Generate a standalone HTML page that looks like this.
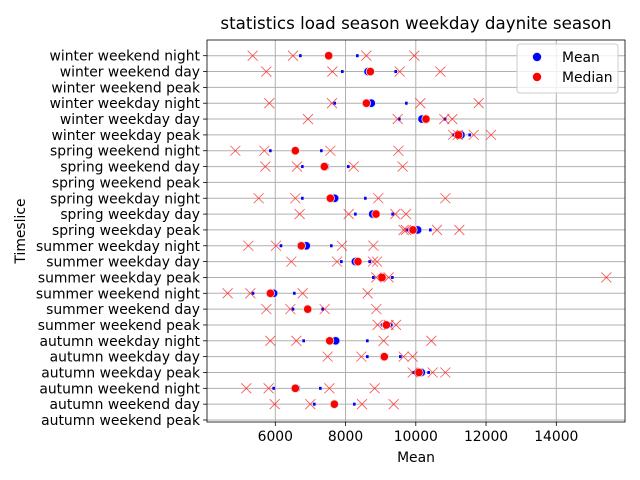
<!DOCTYPE html>
<html><head><meta charset="utf-8"><style>
html,body{margin:0;padding:0;background:#fff;}
svg{display:block;font-family:"DejaVu Sans","Liberation Sans",sans-serif;}
</style></head><body>
<svg id="chart" width="640" height="480" viewBox="0 0 640 480">
<rect width="640" height="480" fill="#fff"/>
<text x="416" y="29" font-size="16.7" text-anchor="middle" fill="#000">statistics load season weekday daynite season</text>
<text x="416" y="462" font-size="13.9" text-anchor="middle" fill="#000">Mean</text>
<text x="0" y="0" font-size="13.9" text-anchor="middle" transform="translate(25,231) rotate(-90)" fill="#000">Timeslice</text>
<g id="grid"></g>
<g id="marks"></g>
<g id="axes"></g>
<g id="legend">
<rect x="517" y="44" width="101" height="49" rx="3" fill="#fff" fill-opacity="0.8" stroke="#ccc"/>
<circle cx="537" cy="57" r="4.2" fill="#0000ff"/>
<text x="562" y="62" font-size="13.9">Mean</text>
<circle cx="537" cy="77" r="4.2" fill="#ff0000"/>
<text x="562" y="82" font-size="13.9">Median</text>
</g>
</svg>
<script>
const categories = ["winter weekend night","winter weekend day","winter weekend peak","winter weekday night","winter weekday day","winter weekday peak","spring weekend night","spring weekend day","spring weekend peak","spring weekday night","spring weekday day","spring weekday peak","summer weekday night","summer weekday day","summer weekday peak","summer weekend night","summer weekend day","summer weekend peak","autumn weekday night","autumn weekday day","autumn weekday peak","autumn weekend night","autumn weekend day","autumn weekend peak"];
const meanValues = [7519,8639,null,8734,10176,11287,6570,7425,null,7690,8772,10053,6883,8279,9038,5953,6922,9161,7719,9085,10158,6598,7681,null];
const medianValues = [7519,8706,null,8592,10290,11220,6570,7396,null,7567,8867,9920,6741,8354,9038,5859,6922,9161,7548,9104,10091,6570,7681,null];
const lowBandValues = [6713,7908,null,7690,9531,11078,5859,6770,null,6770,8279,9750,6162,7880,8791,5365,6504,9038,6808,8620,9939,5953,7111,null];
const highBandValues = [8336,9427,null,9731,10831,11534,7311,8079,null,8563,9341,10414,7595,8687,9332,6542,7349,9303,8620,9560,10366,7282,8250,null];
const crossValues = [
 [5356,6504,8592,9958],[5745,7624,9541,10699],[],[5830,7614,10129,11790],[6931,9484,10812,11040],
 [11059,11192,11647,12141],[4862,5688,7567,9503],[5716,6618,8231,9626],[],[5526,6570,8933,10841],
 [6694,8089,9417,9721],[9654,9721,10603,11239],[5232,6020,7899,8791],[6456,7756,8781,8895],
 [8876,9227,15424],[4644,5289,6779,8630],[5745,6428,7405,8876],[8914,9227,9436],
 [5859,6599,9085,10442],[7491,8449,9654,9911],[9911,10480,10841],[5175,5811,7539,8829],
 [5982,6997,8468,9370],[]];
const xTicks = [6000,8000,10000,12000,14000];
const xTickLabels = ["6000","8000","10000","12000","14000"];

const NS="http://www.w3.org/2000/svg";
const L=207,R=625,T=40,B=422;
function xScale(v){return 275.3+(v-6000)*(70.25/2000);}
function yScale(i){return 55.7+i*(420-55.7)/23;}
function mk(tag,attrs,parent){const e=document.createElementNS(NS,tag);for(const k in attrs)e.setAttribute(k,attrs[k]);parent.appendChild(e);return e;}
const grid=document.getElementById('grid'),marks=document.getElementById('marks'),axes=document.getElementById('axes');
xTicks.forEach((t,i)=>{
 const x=xScale(t);
 const g=mk('line',{x1:x,x2:x,y1:T,y2:B,stroke:'#b0b0b0','stroke-width':1},grid);
 
 
 const tk=mk('line',{x1:x,x2:x,y1:B,y2:B+4,stroke:'#000','stroke-width':0.8},axes);
 
 
 const tl=mk('text',{x:x,y:B+19,'font-size':13.9,'text-anchor':'middle'},axes);
 tl.textContent=xTickLabels[i];
 
 
});
categories.forEach((c,i)=>{
 const y=yScale(i);
 const g=mk('line',{x1:L,x2:R,y1:y,y2:y,stroke:'#b0b0b0','stroke-width':1},grid);
 
 
 const tk=mk('line',{x1:L-4,x2:L,y1:y,y2:y,stroke:'#000','stroke-width':0.8},axes);
 
 
 const tl=mk('text',{x:L-7,y:y+5,'font-size':13.9,'text-anchor':'end'},axes);
 tl.textContent=c;
 
 
});
const frame=mk('rect',{x:L,y:T,width:R-L,height:B-T,fill:'none',stroke:'#000','stroke-width':0.8},axes);


categories.forEach((c,i)=>{
 const y=yScale(i);
 [lowBandValues[i],highBandValues[i]].forEach(v=>{
  if(v==null)return;
  const b=mk('rect',{x:xScale(v)-1.3,y:y-1.5,width:2.6,height:3,fill:'#0000ff'},marks);
  
  
 });
 if(meanValues[i]!=null){
  const m=mk('circle',{cx:xScale(meanValues[i]),cy:y,r:4.2,fill:'#0000ff',stroke:'#dde',"stroke-width":0.8},marks);
  
  
 }
 if(medianValues[i]!=null){
  const m=mk('circle',{cx:xScale(medianValues[i]),cy:y,r:4.2,fill:'#ff0000',stroke:'#edd',"stroke-width":0.8},marks);
  
  
 }
 crossValues[i].forEach(v=>{
  const x=xScale(v);
  const p=mk('path',{d:`M${x-5},${y-5}L${x+5},${y+5}M${x-5},${y+5}L${x+5},${y-5}`,stroke:'#ff0000','stroke-opacity':0.7,'stroke-width':0.8,fill:'none'},marks);
  
  
 });
});
</script>
</body></html>
